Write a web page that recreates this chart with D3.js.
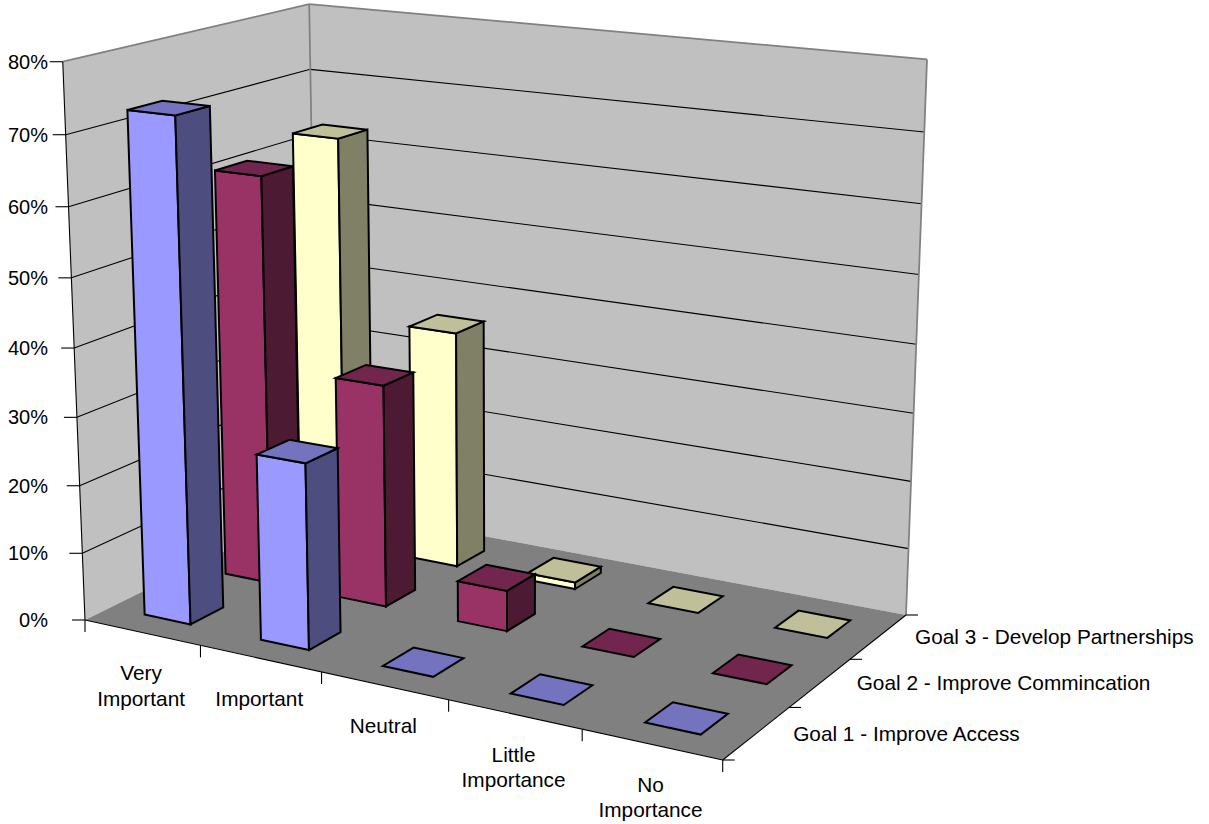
<!DOCTYPE html>
<html>
<head>
<meta charset="utf-8">
<script src="https://cdn.jsdelivr.net/npm/d3@7"></script>
<style>
  html, body { margin: 0; padding: 0; background: #fff; }
  svg { display: block; }
  text { font-family: "Liberation Sans", Arial, sans-serif; font-size: 20.8px; fill: #000; }
  text.value-tick { font-size: 20px; }
</style>
</head>
<body>
<svg id="chart" width="1209" height="824"></svg>
<script>
// Survey responses by goal (percent of respondents)
const categories = ["Very Important", "Important", "Neutral", "Little Importance", "No Importance"];
const categoryLines = [["Very", "Important"], ["Important"], ["Neutral"], ["Little", "Importance"], ["No", "Importance"]];
const seriesNames = ["Goal 1 - Improve Access", "Goal 2 - Improve Commincation", "Goal 3 - Develop Partnerships"];
const goal1 = [73, 27, 0, 0, 0];
const goal2 = [61, 33, 6, 0, 0];
const goal3 = [63, 36, 1, 0, 0];
const seriesValues = [goal1, goal2, goal3];
const valueTicks = [0, 10, 20, 30, 40, 50, 60, 70, 80];

// Bar face colours per series: front, side, top
const frontColors = ["#9999FF", "#993366", "#FFFFCC"];
const sideColors = ["#4D4D80", "#4D1A33", "#808066"];
const topColors = ["#7373BF", "#73264D", "#BFBF99"];

const svg = d3.select("#chart");

// Data scales into the unit box: u along categories, v into depth, w up the walls
const uScale = d3.scaleBand().domain(categories).range([0, 1]).paddingInner(0.6).paddingOuter(0.3);
const vScale = d3.scaleBand().domain(seriesNames).range([0, 1]).paddingInner(0.6).paddingOuter(0.3);
const wScale = d3.scaleLinear().domain([0, 80]).range([0, 1]);

// Perspective camera: floor homography from the four floor corners,
// plus a vanishing point far below that the vertical edges converge on
const floorQuad = [[85, 620], [722.7, 760], [906, 615], [318, 505]];
const vanish = [506, 11183];
const heightGain = 0.0502;

function floorHomography(q) {
  const [[x0, y0], [x1, y1], [x2, y2], [x3, y3]] = q;
  const sx = x0 - x1 + x2 - x3, sy = y0 - y1 + y2 - y3;
  const dx1 = x1 - x2, dx2 = x3 - x2, dy1 = y1 - y2, dy2 = y3 - y2;
  const det = dx1 * dy2 - dx2 * dy1;
  const g = (sx * dy2 - dx2 * sy) / det;
  const h = (dx1 * sy - sx * dy1) / det;
  return { a: x1 - x0 + g * x1, b: x3 - x0 + h * x3, c: x0,
           d: y1 - y0 + g * y1, e: y3 - y0 + h * y3, f: y0, g, h };
}
const H = floorHomography(floorQuad);

function project(u, v, w) {
  const k = -w * heightGain;
  const X = H.a * u + H.b * v + H.c + k * vanish[0];
  const Y = H.d * u + H.e * v + H.f + k * vanish[1];
  const W = H.g * u + H.h * v + 1 + k;
  return [X / W, Y / W];
}

const pathOf = d3.line();
function poly(g, pts, fill, stroke, width) {
  g.append("path")
    .attr("d", pathOf(pts) + "Z")
    .attr("fill", fill)
    .attr("stroke", stroke || "none")
    .attr("stroke-width", width || 0)
    .attr("stroke-linejoin", "miter");
}
function seg(g, a, b, stroke, width) {
  g.append("line")
    .attr("x1", a[0]).attr("y1", a[1]).attr("x2", b[0]).attr("y2", b[1])
    .attr("stroke", stroke).attr("stroke-width", width);
}

// Walls and floor
const box = svg.append("g");
poly(box, [project(0, 0, 0), project(0, 1, 0), project(0, 1, 1), project(0, 0, 1)], "#C0C0C0");
poly(box, [project(0, 1, 0), project(1, 1, 0), project(1, 1, 1), project(0, 1, 1)], "#C0C0C0");
poly(box, [project(0, 0, 0), project(1, 0, 0), project(1, 1, 0), project(0, 1, 0)], "#808080");

// Gridlines across both walls
valueTicks.filter(t => t > 0 && t < 80).forEach(t => {
  const w = wScale(t);
  seg(box, project(0, 0, w), project(0, 1, w), "#000", 1.1);
  seg(box, project(0, 1, w), project(1, 1, w), "#000", 1.1);
});

// Wall outlines
seg(box, project(0, 0, 1), project(0, 1, 1), "#808080", 1.75);
seg(box, project(0, 1, 1), project(1, 1, 1), "#808080", 1.75);
seg(box, project(0, 1, 0), project(0, 1, 1), "#808080", 1.75);
seg(box, project(1, 1, 0), project(1, 1, 1), "#808080", 1.75);

// Axis lines and tick marks
const axes = svg.append("g");
seg(axes, project(0, 0, 0), project(0, 0, 1), "#000", 1.1);
seg(axes, project(0, 0, 0), project(1, 0, 0), "#000", 1.1);
seg(axes, project(1, 0, 0), project(1, 1, 0), "#000", 1.1);

valueTicks.forEach(t => {
  const p = project(0, 0, wScale(t));
  seg(axes, [p[0] - 13, p[1]], p, "#000", 1.1);
  axes.append("text")
    .attr("class", "value-tick")
    .attr("x", 48).attr("y", p[1] + 7)
    .attr("text-anchor", "end")
    .text(t + "%");
});

const uStep = uScale.step(), vStep = vScale.step();
d3.range(categories.length + 1).forEach(i => {
  const p = project(i * uStep, 0, 0);
  seg(axes, p, [p[0], p[1] + 12], "#000", 1.1);
});
d3.range(seriesNames.length + 1).forEach(i => {
  const p = project(1, i * vStep, 0);
  seg(axes, p, [p[0] + 12, p[1]], "#000", 1.1);
});

categories.forEach((c, i) => {
  const p = project((i + 0.5) * uStep, 0, 0);
  const t = axes.append("text").attr("text-anchor", "middle");
  categoryLines[i].forEach((line, j) => {
    t.append("tspan").attr("x", p[0] - 1).attr("y", p[1] + 47.5 + j * 25.5).text(line);
  });
});

seriesNames.forEach((s, i) => {
  const p = project(1, (i + 0.5) * vStep, 0);
  axes.append("text").attr("x", p[0] + 36.5).attr("y", p[1] + 7.5).text(s);
});

// Columns, painted from the back row forward and left to right
const bars = svg.append("g");
d3.range(seriesNames.length - 1, -1, -1).forEach(si => {
  const v0 = vScale(seriesNames[si]), v1 = v0 + vScale.bandwidth();
  categories.forEach((c, ci) => {
    const value = seriesValues[si][ci];
    const u0 = uScale(c), u1 = u0 + uScale.bandwidth();
    const w = wScale(value);
    if (value > 0) {
      poly(bars, [project(u0, v0, 0), project(u1, v0, 0), project(u1, v0, w), project(u0, v0, w)], frontColors[si], "#000", 2);
      poly(bars, [project(u1, v0, 0), project(u1, v1, 0), project(u1, v1, w), project(u1, v0, w)], sideColors[si], "#000", 2);
    }
    poly(bars, [project(u0, v0, w), project(u1, v0, w), project(u1, v1, w), project(u0, v1, w)], topColors[si], "#000", 2);
  });
});
</script>
</body>
</html>
